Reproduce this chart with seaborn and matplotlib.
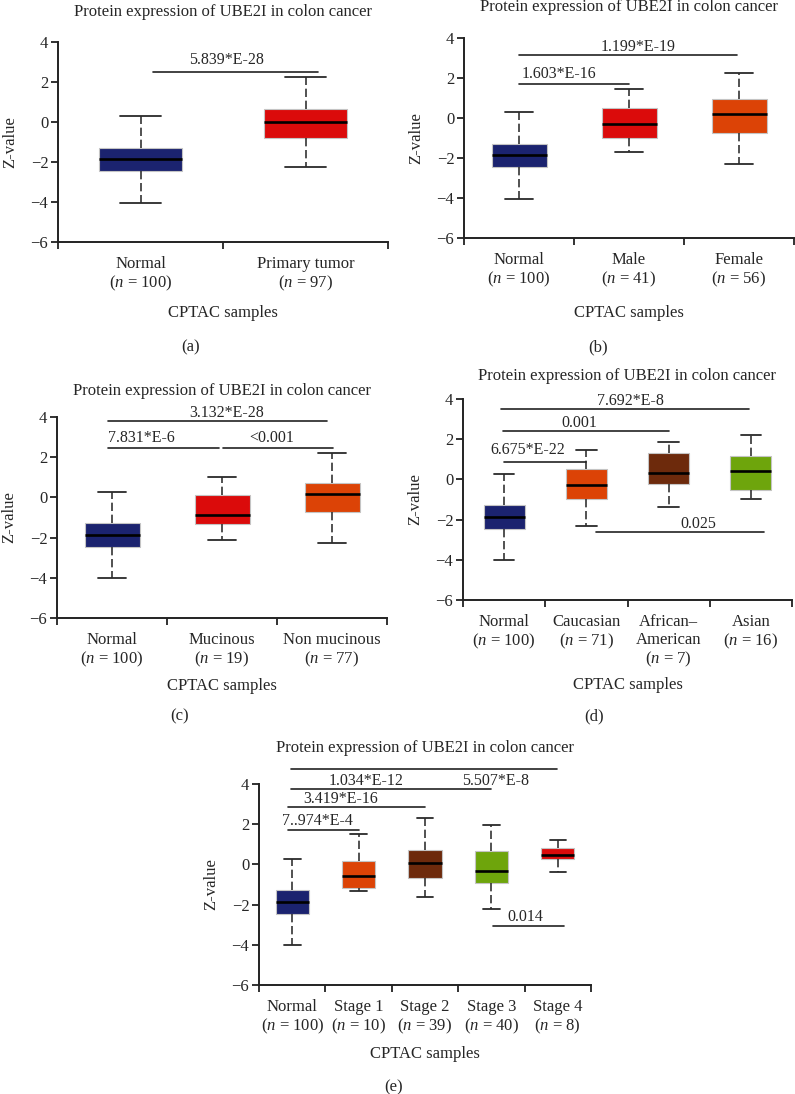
import numpy as np
import pandas as pd
import matplotlib
matplotlib.use("Agg")
import matplotlib.pyplot as plt
import seaborn as sns

# five-number summaries: min, Q1, median, Q3, max
normal = [-4.03, -2.45, -1.85, -1.28, 0.28]
tumor = [-2.27, -0.80, 0.00, 0.67, 2.25]
male = [-1.69, -0.99, -0.29, 0.52, 1.45]
female = [-2.29, -0.74, 0.21, 0.97, 2.24]
mucinous = [-2.13, -1.30, -0.87, 0.10, 1.03]
non_mucinous = [-2.28, -0.72, 0.16, 0.70, 2.22]
caucasian = [-2.30, -0.98, -0.29, 0.53, 1.46]
african_american = [-1.36, -0.21, 0.30, 1.31, 1.88]
asian = [-0.96, -0.51, 0.43, 1.15, 2.21]
stage1 = [-1.32, -1.16, -0.56, 0.15, 1.53]
stage2 = [-1.64, -0.66, 0.08, 0.73, 2.31]
stage3 = [-2.23, -0.91, -0.33, 0.67, 1.98]
stage4 = [-0.36, 0.28, 0.48, 0.80, 1.23]

labels_a = ["Normal\n($n$ = 100)", "Primary tumor\n($n$ = 97)"]
labels_b = ["Normal\n($n$ = 100)", "Male\n($n$ = 41)", "Female\n($n$ = 56)"]
labels_c = ["Normal\n($n$ = 100)", "Mucinous\n($n$ = 19)", "Non mucinous\n($n$ = 77)"]
labels_d = ["Normal\n($n$ = 100)", "Caucasian\n($n$ = 71)",
            "African\u2013\nAmerican\n($n$ = 7)", "Asian\n($n$ = 16)"]
labels_e = ["Normal\n($n$ = 100)", "Stage 1\n($n$ = 10)", "Stage 2\n($n$ = 39)",
            "Stage 3\n($n$ = 40)", "Stage 4\n($n$ = 8)"]

pvals_a = ["5.839*E-28"]
pvals_b = ["1.199*E-19", "1.603*E-16"]
pvals_c = ["3.132*E-28", "7.831*E-6", "<0.001"]
pvals_d = ["7.692*E-8", "0.001", "6.675*E-22", "0.025"]
pvals_e = ["5.507*E-8", "1.034*E-12", "3.419*E-16", "7..974*E-4", "0.014"]

NAVY = "#1b236f"
RED = "#db0b0b"
ORANGE = "#dc4306"
BROWN = "#6d2a0c"
GREEN = "#6ea50c"

sns.set_style("ticks")
plt.rcParams["font.family"] = ["Liberation Serif", "DejaVu Serif"]
plt.rcParams["mathtext.fontset"] = "custom"
plt.rcParams["mathtext.rm"] = "Liberation Serif"
plt.rcParams["mathtext.it"] = "Liberation Serif:italic"

fig = plt.figure(figsize=(7.95, 10.94), dpi=100)
W, H = 795, 1094


def make_ax(left, right, top, bottom):
    return fig.add_axes([left / W, 1 - bottom / H, (right - left) / W, (bottom - top) / H])


# panel layout: axes box in pixels, title offset, xlabel offset, panel letter position
panels = [
    dict(box=(58, 388, 42, 242), groups=[normal, tumor], labels=labels_a,
         colors=[NAVY, RED], pvals=pvals_a,
         bars=[(0.076, 1.076, 2.52, 0.52, 3.12, "center")],
         title_dy=30, xlab_dy=71, letter=("(a)", 191, 347)),
    dict(box=(464, 794, 38, 238), groups=[normal, male, female], labels=labels_b,
         colors=[NAVY, RED, ORANGE], pvals=pvals_b,
         bars=[(0.0, 1.98, 3.17, 1.08, 3.57, "center"),
               (0.0, 1.0, 1.69, 0.02, 2.2, "left")],
         title_dy=31, xlab_dy=75, letter=("(b)", 598, 347)),
    dict(box=(57, 387, 417, 618), groups=[normal, mucinous, non_mucinous], labels=labels_c,
         colors=[NAVY, RED, ORANGE], pvals=pvals_c,
         bars=[(-0.036, 1.95, 3.8, 1.04, 4.2, "center"),
               (-0.036, 0.97, 2.44, -0.036, 2.94, "left"),
               (1.005, 2.01, 2.45, 1.45, 2.94, "center")],
         title_dy=26, xlab_dy=68, letter=("(c)", 180, 716)),
    dict(box=(463, 792, 399, 600), groups=[normal, caucasian, african_american, asian],
         labels=labels_d, colors=[NAVY, ORANGE, BROWN, GREEN], pvals=pvals_d,
         bars=[(-0.04, 2.98, 3.5, 1.53, 3.88, "center"),
               (-0.01, 2.0, 2.42, 0.92, 2.83, "center"),
               (0.0, 1.0, 0.88, 0.29, 1.44, "center"),
               (1.12, 3.16, -2.6, 2.36, -2.2, "center")],
         title_dy=23, xlab_dy=85, letter=("(d)", 594, 716)),
    dict(box=(259, 591, 784, 985), groups=[normal, stage1, stage2, stage3, stage4],
         labels=labels_e, colors=[NAVY, ORANGE, BROWN, GREEN, RED], pvals=pvals_e,
         bars=[(-0.02, 3.99, 4.75, 3.06, 4.17, "center"),
               (-0.02, 2.99, 3.75, 1.11, 4.17, "center"),
               (-0.06, 2.0, 2.84, 0.73, 3.26, "center"),
               (-0.06, 1.0, 1.71, 0.38, 2.18, "center"),
               (3.02, 4.09, -3.05, 3.51, -2.62, "center")],
         title_dy=36, xlab_dy=69, letter=("(e)", 394, 1087)),
]

for p in panels:
    left, right, top, bottom = p["box"]
    ax = make_ax(left, right, top, bottom)
    n = len(p["groups"])
    names = [f"g{i}" for i in range(n)]
    df = pd.DataFrame({
        "group": np.repeat(names, 5),
        "z": np.concatenate(p["groups"]),
    })
    sns.boxplot(data=df, x="group", y="z", hue="group", order=names,
                palette=dict(zip(names, p["colors"])), legend=False, saturation=1,
                whis=(0, 100), width=0.5, linecolor="#2a2a2a", ax=ax,
                boxprops=dict(edgecolor="#c4c4c4", linewidth=0.8),
                whiskerprops=dict(color="#333333", linewidth=1.2, linestyle=(0, (5, 2.2))),
                capprops=dict(color="#2a2a2a", linewidth=1.3),
                medianprops=dict(color="black", linewidth=1.9),
                showfliers=False)
    # caps narrower than the boxes
    for line in ax.lines:
        xd = line.get_xdata()
        yd = line.get_ydata()
        if len(xd) == 2 and yd[0] == yd[1] and line.get_linestyle() == "-" and line.get_color() == "#2a2a2a":
            c = (xd[0] + xd[1]) / 2
            line.set_xdata([c - 0.125, c + 0.125])
    for patch in ax.patches:
        patch.set_edgecolor("#c4c4c4")

    ax.set_xlim(-0.5, n - 0.5)
    ax.set_ylim(-6, 4)
    ax.set_yticks([-6, -4, -2, 0, 2, 4])
    ax.set_yticklabels(["\u22126", "\u22124", "\u22122", "0", "2", "4"])
    ax.set_xticks(range(n))
    ax.set_xticklabels(p["labels"], linespacing=1.15)
    ax.set_xticks(np.arange(-0.5, n), minor=True)
    ax.tick_params(axis="x", which="major", length=0, pad=10, labelsize=12)
    ax.tick_params(axis="x", which="minor", length=5, width=1.3, color="#222")
    ax.tick_params(axis="y", length=5, width=1.3, color="#222", labelsize=12, pad=2)
    for s in ["left", "bottom"]:
        ax.spines[s].set_linewidth(1.4)
        ax.spines[s].set_color("#222")
    sns.despine(ax=ax)

    ax.set_ylabel("Z-value", fontsize=12)
    ax.yaxis.label.set_va("center")
    ax.yaxis.set_label_coords(-0.145, 0.5)
    ax.set_xlabel("CPTAC samples", fontsize=12)
    ax.xaxis.label.set_va("center")
    ax.xaxis.set_label_coords(0.5, -p["xlab_dy"] / 200)

    ax.text(0.5, 1 + p["title_dy"] / 200, "Protein expression of UBE2I in colon cancer",
            transform=ax.transAxes, ha="center", va="center", fontsize=12)

    for (x1, x2, y, tx, ty, ha), lab in zip(p["bars"], p["pvals"]):
        ax.plot([x1, x2], [y, y], color="#222", lw=1.2, clip_on=False)
        ax.text(tx, ty, lab, ha=ha, va="center", fontsize=11.5, clip_on=False)

    txt, lx, ly = p["letter"]
    fig.text(lx / W, 1 - ly / H, txt, ha="center", va="center", fontsize=12)

fig.savefig("out.png", dpi=100)
